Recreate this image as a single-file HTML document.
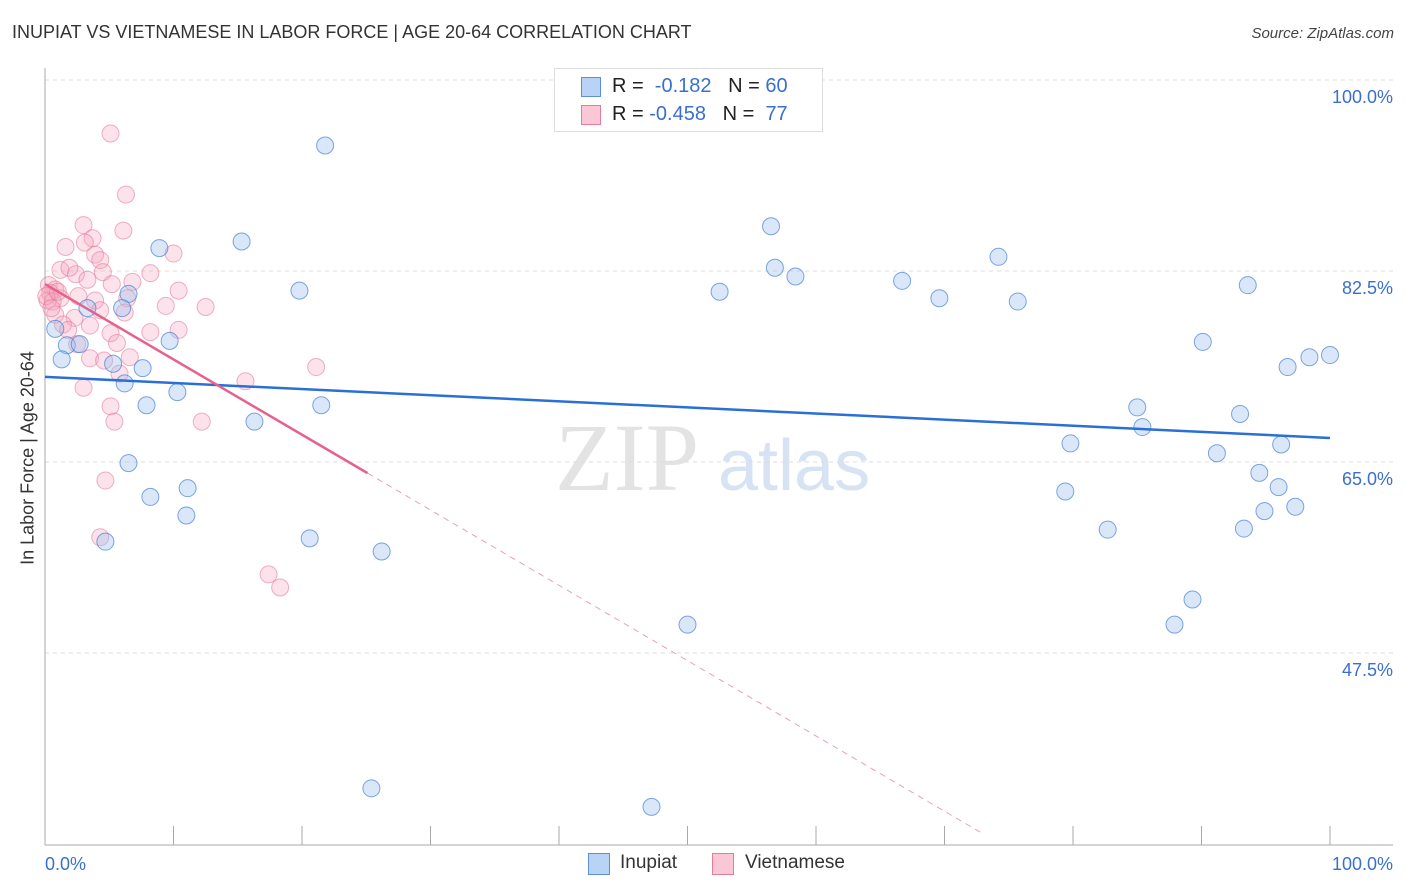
<!DOCTYPE html>
<html><head><meta charset="utf-8"><style>
body{margin:0;background:#fff;font-family:"Liberation Sans",sans-serif;}
#wrap{position:relative;width:1406px;height:892px;overflow:hidden;}
.t{position:absolute;white-space:nowrap;}
</style></head><body>
<div id="wrap">
<div class="t" style="left:12px;top:22px;font-size:18px;color:#333;">INUPIAT VS VIETNAMESE IN LABOR FORCE | AGE 20-64 CORRELATION CHART</div>
<div class="t" style="right:12px;top:25px;font-size:15px;color:#444;font-style:italic;">Source: ZipAtlas.com</div>
<svg id="svg" width="1406" height="892" style="position:absolute;left:0;top:0">
<text x="555" y="490" font-family="Liberation Serif" font-size="96" fill="#e3e3e3">ZIP</text>
<text x="718" y="490" font-family="Liberation Sans" font-size="72" fill="#d7e3f3">atlas</text>
</svg>
<div style="position:absolute;left:554px;top:68px;width:267px;height:62px;border:1px solid #ddd;background:#fff;font-size:20px;color:#222;">
<div style="position:absolute;left:26px;top:8px;width:18px;height:18px;background:#b8d3f3;border:1px solid #5b8fd9;"></div>
<div class="t" style="left:57px;top:6px;">R = &nbsp;<span style="color:#3a6fd0">-0.182</span> &nbsp;&nbsp;N = <span style="color:#3a6fd0">60</span></div>
<div style="position:absolute;left:26px;top:36px;width:18px;height:18px;background:#f9c7d6;border:1px solid #e67b9c;"></div>
<div class="t" style="left:57px;top:34px;">R = <span style="color:#3a6fd0">-0.458</span> &nbsp;&nbsp;N = &nbsp;<span style="color:#3a6fd0">77</span></div>
</div>
<div class="t" style="left:28px;top:458px;font-size:18px;color:#333;transform:translate(-50%,-50%) rotate(-90deg);">In Labor Force | Age 20-64</div>
<div style="position:absolute;left:588px;top:853px;width:20px;height:20px;background:#b8d3f3;border:1px solid #5b8fd9;"></div>
<div class="t" style="left:620px;top:852px;font-size:19px;color:#333;">Inupiat</div>
<div style="position:absolute;left:712px;top:853px;width:20px;height:20px;background:#f9c7d6;border:1px solid #e67b9c;"></div>
<div class="t" style="left:745px;top:852px;font-size:19px;color:#333;">Vietnamese</div>
</div>
<script>
const yTicks=[100,82.5,65,47.5];
const yTickLabels=["100.0%","82.5%","65.0%","47.5%"];
const xTickLabels=["0.0%","100.0%"];
const blueX=[21.8,8.9,15.3,56.5,56.8,58.4,74.2,66.7,69.6,75.7,93.6,52.5,19.8,6.5,3.3,6.0,0.8,1.7,2.7,9.7,1.3,5.3,7.6,6.2,10.3,7.9,21.5,16.3,6.5,8.2,11.1,11.0,4.7,20.6,26.2,50.0,25.4,47.2,90.1,98.4,100.0,96.7,85.0,93.0,85.4,79.8,91.2,96.2,94.5,96.0,79.4,94.9,97.3,82.7,93.3,89.3,87.9];
const blueY=[94.0,84.6,85.2,86.6,82.8,82.0,83.8,81.6,80.0,79.7,81.2,80.6,80.7,80.4,79.1,79.1,77.2,75.7,75.8,76.1,74.4,74.0,73.6,72.2,71.4,70.2,70.2,68.7,64.9,61.8,62.6,60.1,57.7,58.0,56.8,50.1,35.1,33.4,76.0,74.6,74.8,73.7,70.0,69.4,68.2,66.7,65.8,66.6,64.0,62.7,62.3,60.5,60.9,58.8,58.9,52.4,50.1];
const pinkX=[5.1,6.3,6.1,3.0,1.6,3.7,3.1,10.0,3.9,4.3,1.2,2.4,1.9,4.5,3.3,8.2,6.8,5.2,10.4,0.3,0.8,1.2,0.2,2.6,3.9,6.4,9.4,12.5,6.2,4.3,0.8,2.3,1.4,3.5,1.8,8.2,10.4,5.1,5.6,2.5,3.5,4.6,6.6,5.8,21.1,15.6,3.0,5.1,5.4,12.2,4.7,4.3,17.4,18.3,0.4,0.6,0.1,1.0,0.5];
const pinkY=[95.1,89.5,86.2,86.7,84.7,85.5,85.1,84.1,84.0,83.5,82.6,82.2,82.8,82.4,81.7,82.3,81.5,81.3,80.7,81.2,80.8,80.0,79.8,80.2,79.8,80.0,79.3,79.2,78.7,78.9,78.5,78.2,77.6,77.5,77.1,76.9,77.1,76.8,75.9,75.8,74.5,74.3,74.6,73.1,73.7,72.4,71.8,70.1,68.7,68.7,63.3,58.1,54.7,53.5,80.5,79.7,80.2,80.6,79.1];
const blueTrend=[72.8,67.2];
const pinkTrend=[81.3,-0.69];
const pinkSolidEnd=25.1, pinkDashEnd=72.8;

const NS="http://www.w3.org/2000/svg",svg=document.getElementById('svg');
const X=v=>45+v*12.85, Y=v=>80+(100-v)*10.914;
function mk(t,a){const e=document.createElementNS(NS,t);for(const k in a)e.setAttribute(k,a[k]);svg.appendChild(e);return e;}
yTicks.forEach((v,i)=>{
 const l=mk('line',{x1:45,x2:1393,y1:Y(v),y2:Y(v),stroke:'#ddd','stroke-dasharray':'4,4'});
 
 
 const t=mk('text',{x:1393,y:Y(v)+23,'text-anchor':'end','font-size':18,fill:'#3a6fd0','font-family':'Liberation Sans'});
 t.textContent=yTickLabels[i];
 
 
});
const ax=mk('line',{x1:45,x2:45,y1:68,y2:845,stroke:'#aaa'});


const bx=mk('line',{x1:45,x2:1393,y1:845,y2:845,stroke:'#aaa'});


for(let i=0;i<=10;i++){
 const tk=mk('line',{x1:X(i*10),x2:X(i*10),y1:826,y2:845,stroke:'#aaa'});
 
 
}
[[0,'start',45],[100,'end',1393]].forEach((d,i)=>{
 const t=mk('text',{x:d[2],y:870,'text-anchor':d[1],'font-size':18,fill:'#3a6fd0','font-family':'Liberation Sans'});
 t.textContent=xTickLabels[i];
 
 
});
pinkX.forEach((v,i)=>{
 const c=mk('circle',{cx:X(v),cy:Y(pinkY[i]),r:8.5,fill:'rgba(245,165,190,0.32)',stroke:'rgba(230,115,150,0.55)','stroke-width':1});
 
 
});
blueX.forEach((v,i)=>{
 const c=mk('circle',{cx:X(v),cy:Y(blueY[i]),r:8.5,fill:'rgba(155,192,240,0.38)',stroke:'rgba(60,120,210,0.65)','stroke-width':1});
 
 
});
const bl=mk('line',{x1:X(0),y1:Y(blueTrend[0]),x2:X(100),y2:Y(blueTrend[1]),stroke:'#2a6fd6','stroke-width':2.5});


const pf=x=>pinkTrend[0]+pinkTrend[1]*x;
const pl=mk('line',{x1:X(0),y1:Y(pf(0)),x2:X(pinkSolidEnd),y2:Y(pf(pinkSolidEnd)),stroke:'#e8608c','stroke-width':2.5});


const pd=mk('line',{x1:X(pinkSolidEnd),y1:Y(pf(pinkSolidEnd)),x2:X(pinkDashEnd),y2:Y(pf(pinkDashEnd)),stroke:'#eaa0b8','stroke-width':1,'stroke-dasharray':'6,5'});


</script>
</body></html>
